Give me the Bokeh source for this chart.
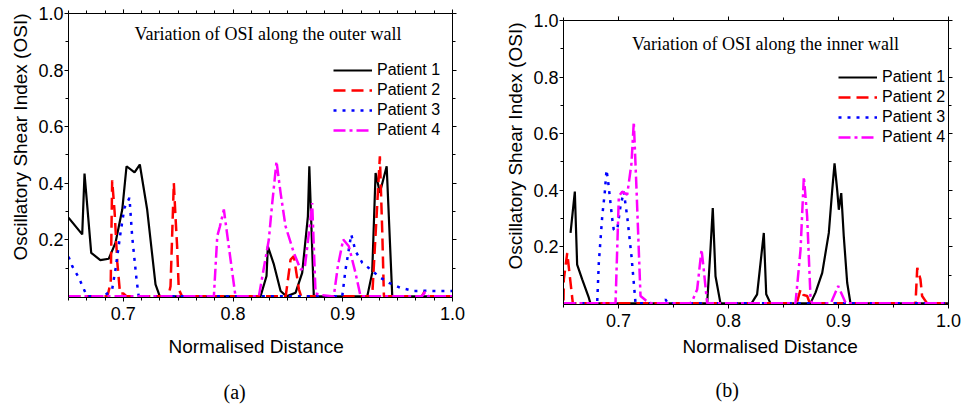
from bokeh.plotting import figure
from bokeh.layouts import row, column
from bokeh.models import (LinearAxis, SingleIntervalTicker, FixedTicker, NumeralTickFormatter,
                          Legend, LegendItem, Label, Title, Spacer)
from bokeh.embed import file_html
from bokeh.resources import INLINE

# ---------------- data: outer wall (a) ----------------
outer_p1_x = [0.650, 0.6625, 0.6646, 0.6707, 0.679, 0.6867, 0.6928, 0.699, 0.7029, 0.7102, 0.715, 0.7217,
              0.7293, 0.7332, 0.825, 0.8305, 0.8317, 0.8372, 0.8433, 0.8487, 0.857, 0.863, 0.8682, 0.8695,
              0.8736, 0.9223, 0.9268, 0.9299, 0.9338, 0.940, 0.9451, 1.0]
outer_p1_y = [0.278, 0.219, 0.434, 0.154, 0.128, 0.133, 0.189, 0.307, 0.46, 0.438, 0.466, 0.307,
              0.042, 0.0, 0.0, 0.072, 0.177, 0.113, 0.019, 0.0, 0.013, 0.083, 0.283, 0.46,
              0.0, 0.0, 0.083, 0.436, 0.366, 0.46, 0.0, 0.0]

outer_p2_x = [0.65, 0.6855, 0.6885, 0.6898, 0.692, 0.6945, 0.697, 0.700, 0.703, 0.741, 0.743, 0.746,
              0.7475, 0.749, 0.7505, 0.7535, 0.848, 0.8524, 0.8554, 0.86, 0.862, 0.9268, 0.9308, 0.9338,
              0.936, 0.9375, 0.972, 0.975, 0.978, 1.0]
outer_p2_y = [0.0, 0.0, 0.05, 0.41, 0.30, 0.12, 0.01, 0.01, 0.0, 0.0, 0.036, 0.401,
              0.283, 0.177, 0.025, 0.0, 0.0, 0.13, 0.142, 0.025, 0.0, 0.0, 0.283, 0.495,
              0.225, 0.0, 0.0, 0.02, 0.0, 0.0]

outer_p3_x = [0.65, 0.6534, 0.6594, 0.664, 0.667, 0.6822, 0.6898, 0.693, 0.6974, 0.701, 0.7056, 0.708,
              0.712, 0.714, 0.8995, 0.9025, 0.904, 0.9077, 0.9116, 0.9177, 0.9253, 0.9344, 0.942, 0.9527,
              0.9648, 0.975, 0.986, 1.0]
outer_p3_y = [0.14, 0.107, 0.066, 0.025, 0.0, 0.0, 0.025, 0.10, 0.225, 0.313, 0.348, 0.213,
              0.06, 0.0, 0.0, 0.095, 0.13, 0.219, 0.16, 0.119, 0.095, 0.066, 0.048, 0.03,
              0.019, 0.02, 0.019, 0.019]

outer_p4_x = [0.65, 0.7825, 0.7856, 0.788, 0.7916, 0.7977, 0.8022, 0.8235, 0.8326, 0.8357, 0.8396, 0.8433,
              0.8478, 0.8554, 0.8615, 0.8653, 0.869, 0.8721, 0.8752, 0.880, 0.8918, 0.8955, 0.9004, 0.9055,
              0.9116, 0.9162, 0.972, 0.975, 0.978, 1.0]
outer_p4_y = [0.0, 0.0, 0.213, 0.247, 0.307, 0.13, 0.0, 0.0, 0.201, 0.33, 0.477, 0.366,
              0.248, 0.154, 0.095, 0.10, 0.22, 0.33, 0.01, 0.005, 0.0, 0.107, 0.201, 0.177,
              0.083, 0.0, 0.0, 0.015, 0.0, 0.0]

# ---------------- data: inner wall (b) ----------------
inner_p1_x = [0.6564, 0.6603, 0.6624, 0.667, 0.673, 0.6745, 0.7806, 0.7836, 0.7857, 0.7882, 0.7927, 0.8209,
              0.826, 0.8321, 0.8343, 0.8382, 0.8745, 0.8791, 0.8852, 0.8912, 0.8943, 0.8964, 0.8988, 0.9003,
              0.9025, 0.9048, 0.9079, 0.9109, 1.0]
inner_p1_y = [0.249, 0.395, 0.137, 0.085, 0.02, 0.0, 0.0, 0.19, 0.337, 0.096, 0.0, 0.0,
              0.032, 0.249, 0.032, 0.0, 0.0, 0.038, 0.108, 0.249, 0.401, 0.495, 0.401, 0.331,
              0.39, 0.237, 0.073, 0.0, 0.0]

inner_p2_x = [0.65, 0.6503, 0.6534, 0.6564, 0.6585, 0.862, 0.8655, 0.868, 0.8715, 0.874, 0.970, 0.9716,
              0.9745, 0.976, 0.9806, 1.0]
inner_p2_y = [0.01, 0.085, 0.178, 0.073, 0.0, 0.0, 0.049, 0.03, 0.026, 0.0, 0.0, 0.126,
              0.085, 0.026, 0.0, 0.0]

inner_p3_x = [0.65, 0.6806, 0.6821, 0.6852, 0.6876, 0.6891, 0.6906, 0.6942, 0.6957, 0.6988, 0.7018, 0.7048,
              0.7079, 0.7118, 0.7155, 0.740, 0.7427, 0.745, 1.0]
inner_p3_y = [0.0, 0.0, 0.143, 0.307, 0.395, 0.472, 0.43, 0.302, 0.26, 0.26, 0.343, 0.395,
              0.307, 0.167, 0.0, 0.0, 0.014, 0.0, 0.0]

inner_p4_x = [0.65, 0.6973, 0.7003, 0.7034, 0.7079, 0.7118, 0.7139, 0.7164, 0.72, 0.725, 0.730, 0.765,
              0.767, 0.7715, 0.7755, 0.7775, 0.7806, 0.8609, 0.8655, 0.8685, 0.8715, 0.8745, 0.876, 0.893,
              0.8997, 0.9067, 1.0]
inner_p4_y = [0.0, 0.0, 0.378, 0.395, 0.384, 0.495, 0.642, 0.401, 0.026, 0.01, 0.0, 0.0,
              0.008, 0.049, 0.19, 0.12, 0.0, 0.0, 0.19, 0.448, 0.307, 0.026, 0.0, 0.0,
              0.061, 0.0, 0.0]

patients = ["Patient 1", "Patient 2", "Patient 3", "Patient 4"]
y_ticks = [0.2, 0.4, 0.6, 0.8, 1.0]
y_minor = [0.1, 0.3, 0.5, 0.7, 0.9]

SANS = "Liberation Sans"
SERIF = "Liberation Serif"

styles = [
    dict(line_color="black", line_width=2.2),
    dict(line_color="#ff0000", line_width=2.5, line_dash="12 6"),
    dict(line_color="#0000ff", line_width=2.5, line_dash="3 6"),
    dict(line_color="#ff00ff", line_width=2.5, line_dash="12 4 3 4"),
]


def style_axis(ax, ticks, show_labels):
    ax.axis_line_color = "black"
    ax.axis_line_width = 1
    ax.major_tick_in = 0
    ax.major_tick_out = 4
    ax.minor_tick_in = 0
    ax.minor_tick_out = 3
    ax.major_tick_line_color = "black"
    ax.minor_tick_line_color = "black"
    if show_labels:
        ax.major_label_text_font = SANS
        ax.major_label_text_font_size = "18px"
        ax.major_label_text_color = "black"
    else:
        ax.major_label_overrides = {t: "" for t in ticks}
        ax.major_label_text_font_size = "1px"
        ax.major_label_standoff = 0


def make_panel(width, height, ml, mr, mt, mb, xs, ys, n_minor_x, title, title_pos,
               xlab_off, xlab_standoff, gap, ylab_off, cap, cap_off, legend_loc):
    p = figure(width=width, height=height, x_range=(0.65, 1.0), y_range=(-0.004, 1.0),
               output_backend="svg", toolbar_location=None,
               min_border_left=ml, min_border_right=mr, min_border_top=mt, min_border_bottom=mb,
               x_axis_type=None, y_axis_type=None)
    p.grid.visible = False
    p.outline_line_color = None
    p.background_fill_color = "white"
    p.border_fill_color = "white"

    xt = SingleIntervalTicker(interval=0.1, num_minor_ticks=n_minor_x)
    yt = FixedTicker(ticks=y_ticks, minor_ticks=y_minor)
    fmt = NumeralTickFormatter(format="0.0")
    x_major = [0.7, 0.8, 0.9, 1.0]

    xb = LinearAxis(ticker=xt, formatter=fmt)
    style_axis(xb, x_major, True)
    xb.major_label_standoff = 5
    p.add_layout(xb, "below")
    xa = LinearAxis(ticker=xt, formatter=fmt)
    style_axis(xa, x_major, False)
    p.add_layout(xa, "above")
    yl = LinearAxis(ticker=yt, formatter=fmt)
    style_axis(yl, y_ticks, True)
    yl.major_label_standoff = 1
    p.add_layout(yl, "left")
    yr = LinearAxis(ticker=yt, formatter=fmt)
    style_axis(yr, y_ticks, False)
    p.add_layout(yr, "right")

    items = []
    for i in range(4):
        r = p.line(xs[i], ys[i], **styles[i])
        items.append(LegendItem(label=patients[i], renderers=[r]))

    leg = Legend(items=items, location=legend_loc, orientation="vertical",
                 padding=0, margin=0, spacing=0, glyph_width=39, glyph_height=20,
                 label_height=20, label_standoff=5, label_text_font=SANS,
                 label_text_font_size="16px", label_text_color="black",
                 border_line_color=None, background_fill_alpha=0)
    p.add_layout(leg)

    p.add_layout(Label(x=title_pos[0], y=title_pos[1], text=title, text_font=SERIF,
                       text_font_size="18px", text_align="center", text_baseline="middle",
                       text_color="black"))

    # x axis title
    p.add_layout(Title(text="Normalised Distance", align="left", offset=xlab_off,
                       standoff=xlab_standoff, text_font=SANS, text_font_size="19px",
                       text_font_style="normal", text_color="black"), "below")
    # invisible spacer between axis title and caption: one white tick, empty label
    spacer = LinearAxis(ticker=FixedTicker(ticks=[0.8], minor_ticks=[]),
                        axis_line_color="white", major_tick_line_color="white",
                        minor_tick_line_color="white", major_tick_out=gap, major_tick_in=0,
                        minor_tick_out=0, major_label_standoff=0,
                        major_label_overrides={0.8: ""}, major_label_text_font_size="1px")
    p.add_layout(spacer, "below")
    # caption
    p.add_layout(Title(text=cap, align="left", offset=cap_off, standoff=2,
                       text_font=SERIF, text_font_size="20px", text_font_style="normal",
                       text_color="black"), "below")
    # y axis title
    p.add_layout(Title(text="Oscillatory Shear Index (OSI)", align="right", offset=ylab_off,
                       standoff=10, text_font=SANS, text_font_size="19px",
                       text_font_style="normal", text_color="black"), "left")
    return p


p1 = make_panel(488, 407, 68, 36, 13, 110,
                [outer_p1_x, outer_p2_x, outer_p3_x, outer_p4_x],
                [outer_p1_y, outer_p2_y, outer_p3_y, outer_p4_y],
                6, "Variation of OSI along the outer wall", (0.8319, 0.928),
                100, 22, 10, 0, "(a)", 155, (265, 157))

p2 = make_panel(480, 400, 75, 20, 13, 103,
                [inner_p1_x, inner_p2_x, inner_p3_x, inner_p4_x],
                [inner_p1_y, inner_p2_y, inner_p3_y, inner_p4_y],
                2, "Variation of OSI along the inner wall", (0.8336, 0.9155),
                119, 9, 14, 2, "(b)", 152, (275, 157))

layout = row(p1, column(Spacer(width=480, height=7), p2))
open("out.html", "w").write(file_html(layout, INLINE))
